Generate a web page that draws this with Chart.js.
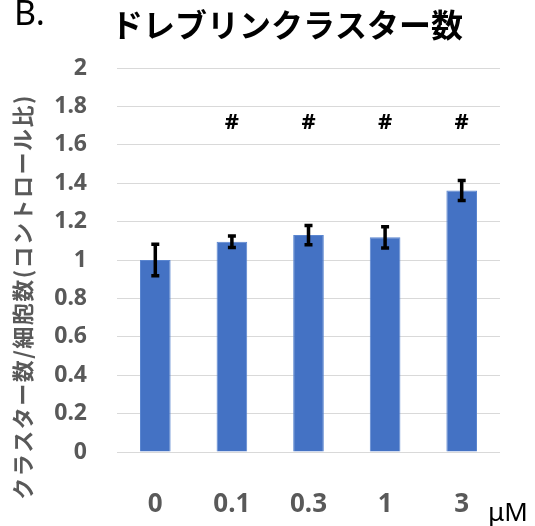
<!DOCTYPE html>
<html>
<head>
<meta charset="utf-8">
<script src="https://cdn.jsdelivr.net/npm/chart.js@4.4.1/dist/chart.umd.min.js"></script>
<style>
  body { margin: 0; background: #fff; }
  canvas { display: block; }
</style>
</head>
<body>
<canvas id="clusterChart" width="535" height="526"></canvas>
<script>
let doses = ['0', '0.1', '0.3', '1', '3'];
let ratios = [1.0, 1.095, 1.13, 1.118, 1.362];
let errors = [0.082, 0.03, 0.05, 0.055, 0.052];
let marks = ['', '#', '#', '#', '#'];
let markLevel = 1.715;
let yTicks = [0, 0.2, 0.4, 0.6, 0.8, 1, 1.2, 1.4, 1.6, 1.8, 2];

let cjk = '"Noto Sans CJK JP", "Noto Sans", sans-serif';
let num = '"Noto Sans", "Open Sans", sans-serif';

// error bars, # marks and the loose texts round the plot
let extras = {
  id: 'extras',
  afterDatasetsDraw(chart) {
    let ctx = chart.ctx;
    let x = chart.scales.x;
    let y = chart.scales.y;

    ctx.save();
    ctx.strokeStyle = '#000';
    ctx.lineWidth = 3.5;
    ratios.forEach((v, i) => {
      let cx = x.getPixelForValue(i);
      let top = y.getPixelForValue(v + errors[i]);
      let bot = y.getPixelForValue(v - errors[i]);
      ctx.beginPath();
      ctx.moveTo(cx, top);
      ctx.lineTo(cx, bot);
      ctx.moveTo(cx - 4, top);
      ctx.lineTo(cx + 4, top);
      ctx.moveTo(cx - 4, bot);
      ctx.lineTo(cx + 4, bot);
      ctx.stroke();
    });

    ctx.fillStyle = '#000';
    ctx.font = 'bold 22px ' + num;
    ctx.textAlign = 'center';
    ctx.textBaseline = 'middle';
    marks.forEach((m, i) => {
      if (m) ctx.fillText(m, x.getPixelForValue(i), y.getPixelForValue(markLevel));
    });
    ctx.restore();
  },
  afterDraw(chart) {
    let ctx = chart.ctx;
    ctx.save();
    ctx.fillStyle = '#000';
    ctx.textBaseline = 'alphabetic';

    ctx.font = 'bold 32px ' + cjk;
    ctx.textAlign = 'center';
    ctx.fillText('ドレブリンクラスター数', 287, 37);

    ctx.font = '34px ' + num;
    ctx.textAlign = 'left';
    ctx.fillText('B.', 14, 25);

    ctx.font = '26px ' + num;
    ctx.fillText('μM', 488, 521);

    ctx.fillStyle = '#595959';
    ctx.font = 'bold 22px ' + cjk;
    ctx.letterSpacing = '1.5px';
    ctx.textAlign = 'center';
    ctx.textBaseline = 'middle';
    ctx.translate(23, 297);
    ctx.rotate(-Math.PI / 2);
    ctx.fillText('クラスター数/細胞数(コントロール比)', 0, 0);
    ctx.restore();
  },
};

new Chart(document.getElementById('clusterChart'), {
  type: 'bar',
  data: {
    labels: doses,
    datasets: [
      {
        data: ratios,
        backgroundColor: '#4472C4',
        borderColor: '#5B86D0',
        borderWidth: 1,
        categoryPercentage: 1,
        barPercentage: 0.4,
      },
    ],
  },
  options: {
    responsive: false,
    animation: false,
    layout: {
      padding: { top: 68, right: 35, left: 0, bottom: 0 },
    },
    plugins: {
      legend: { display: false },
      tooltip: { enabled: false },
    },
    scales: {
      x: {
        grid: { display: false },
        border: { display: false },
        ticks: {
          color: '#595959',
          font: { family: num, size: 26, weight: 'bold' },
          padding: 29,
        },
        afterFit(scale) {
          scale.height = 74;
        },
      },
      y: {
        min: 0,
        max: 2,
        afterBuildTicks(scale) {
          scale.ticks = yTicks.map((v) => ({ value: v }));
        },
        grid: { color: '#d9d9d9', lineWidth: 1, drawTicks: false },
        border: { display: false },
        ticks: {
          color: '#595959',
          font: { family: num, size: 23, weight: 'bold' },
          padding: 30,
          callback: (v) => String(v),
        },
        afterFit(scale) {
          scale.width = 117;
        },
      },
    },
  },
  plugins: [extras],
});
</script>
</body>
</html>
